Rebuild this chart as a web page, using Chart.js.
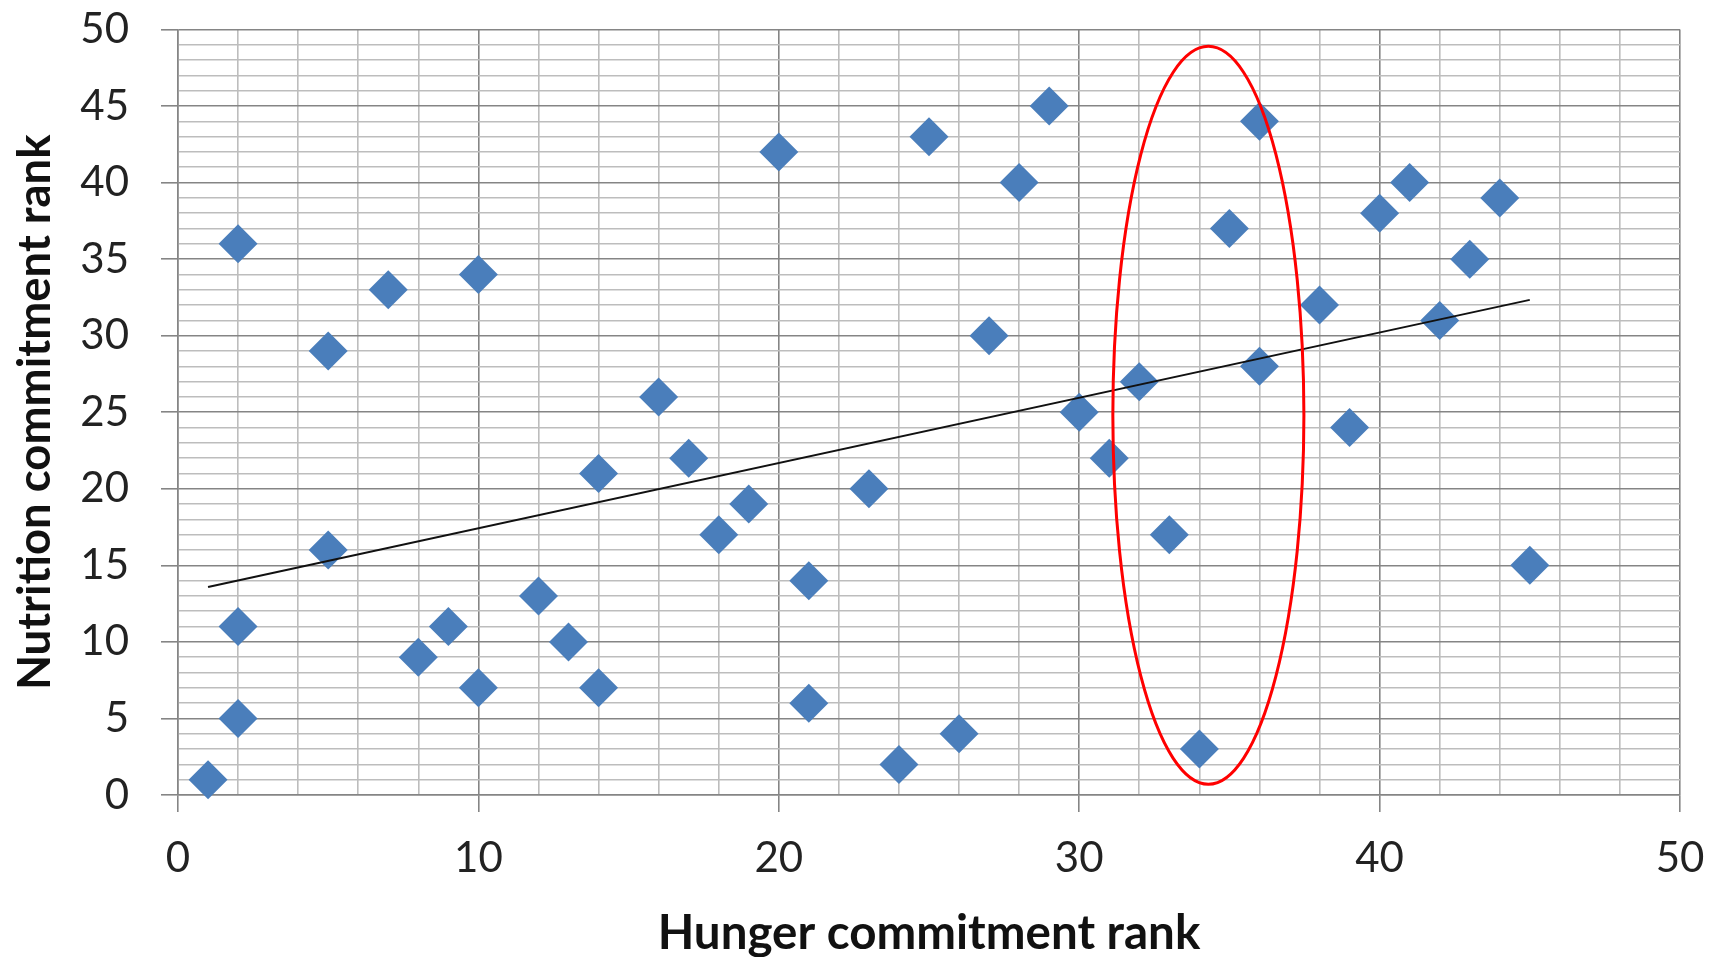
<!DOCTYPE html>
<html>
<head>
<meta charset="utf-8">
<script src="https://cdn.jsdelivr.net/npm/chart.js@4.4.1/dist/chart.umd.min.js"></script>
<style>
  html, body { margin: 0; padding: 0; background: #fff; }
  #wrap { width: 1719px; height: 957px; position: relative; }
</style>
</head>
<body>
<div id="wrap"><canvas id="rankChart"></canvas></div>
<script>
// Hunger vs nutrition commitment rank (one point per country)
const hungerRank = [1, 2, 2, 2, 5, 5, 7, 8, 9, 10, 10, 12, 13, 14, 14, 16, 17, 18, 19, 20, 21, 21, 23,
  24, 25, 26, 27, 28, 29, 30, 31, 32, 33, 34, 35, 36, 36, 38, 39, 40, 41, 42, 43, 44, 45];
const nutritionRank = [1, 5, 11, 36, 16, 29, 33, 9, 11, 7, 34, 13, 10, 7, 21, 26, 22, 17, 19, 42, 14, 6, 20,
  2, 43, 4, 30, 40, 45, 25, 22, 27, 17, 3, 37, 28, 44, 32, 24, 38, 40, 31, 35, 39, 15];

const xTickLabels = [0, 10, 20, 30, 40, 50];
const yTickLabels = [0, 5, 10, 15, 20, 25, 30, 35, 40, 45, 50];

// red ring drawn round the 31-37 group (data units)
const ringCenter = [34.3, 24.8];
const ringRadii = [3.18, 24.1];

(function () {
  function $(id) { return document.getElementById(id); }

  function linearFit(xs, ys) {
    const n = xs.length;
    let sx = 0, sy = 0, sxx = 0, sxy = 0;
    for (let i = 0; i < n; i++) {
      sx += xs[i]; sy += ys[i];
      sxx += xs[i] * xs[i]; sxy += xs[i] * ys[i];
    }
    const slope = (n * sxy - sx * sy) / (n * sxx - sx * sx);
    const icpt = (sy - slope * sx) / n;
    return x => icpt + slope * x;
  }

  const ringPlugin = {
    id: 'ring',
    afterDatasetsDraw(chart) {
      const { ctx, scales: { x, y } } = chart;
      const cx = x.getPixelForValue(ringCenter[0]);
      const cy = y.getPixelForValue(ringCenter[1]);
      const rx = Math.abs(x.getPixelForValue(ringCenter[0] + ringRadii[0]) - cx);
      const ry = Math.abs(y.getPixelForValue(ringCenter[1] + ringRadii[1]) - cy);
      ctx.save();
      ctx.beginPath();
      ctx.ellipse(cx, cy, rx, ry, 0, 0, Math.PI * 2);
      ctx.strokeStyle = '#ff0000';
      ctx.lineWidth = 3;
      ctx.stroke();
      ctx.restore();
    }
  };

  function draw() {
    const fit = linearFit(hungerRank, nutritionRank);
    const xMin = Math.min(...hungerRank), xMax = Math.max(...hungerRank);
    const points = hungerRank.map((h, i) => ({ x: h, y: nutritionRank[i] }));

    const tickFont = { family: 'Lato', size: 42 };
    const MAJOR = '#858585', MINOR = '#bdbdbd';

    new Chart($('rankChart'), {
      type: 'scatter',
      data: {
        datasets: [{
          data: points,
          pointStyle: 'rectRot',
          pointRadius: 19.5,
          backgroundColor: '#4a7ebb',
          borderWidth: 0,
          clip: false,
          order: 2
        }, {
          type: 'line',
          data: [{ x: xMin, y: fit(xMin) }, { x: xMax, y: fit(xMax) }],
          borderColor: '#111',
          borderWidth: 2,
          pointRadius: 0,
          order: 1
        }]
      },
      options: {
        responsive: true,
        maintainAspectRatio: false,
        animation: false,
        events: [],
        layout: { autoPadding: false, padding: 0 },
        plugins: { legend: { display: false }, tooltip: { enabled: false } },
        scales: {
          x: {
            type: 'linear', min: 0, max: 50,
            // keep plot box where the original sits
            afterFit: s => { s.height = 162; s.paddingRight = 39; s.paddingLeft = 0; },
            border: { color: MAJOR, width: 1.5 },
            grid: {
              color: c => (c.tick.value % 10 === 0 ? MAJOR : MINOR),
              tickColor: c => (c.tick.value % 10 === 0 ? MAJOR : 'rgba(0,0,0,0)'),
              lineWidth: 1.6,
              tickLength: 17
            },
            ticks: {
              stepSize: 2, autoSkip: false, maxRotation: 0,
              padding: 21, color: '#222', font: tickFont,
              callback: v => (xTickLabels.includes(v) ? String(v) : '')
            },
            title: {
              display: true, text: 'Hunger commitment rank', color: '#111',
              font: { family: 'Lato', size: 47.5, weight: 'bold', lineHeight: 1 },
              padding: { top: 0, bottom: 0 }
            }
          },
          y: {
            type: 'linear', min: 0, max: 50,
            afterFit: s => { s.width = 178; s.paddingTop = 29.5; s.paddingBottom = 0; },
            border: { color: MAJOR, width: 1.5 },
            grid: {
              color: c => (c.tick.value % 5 === 0 ? MAJOR : MINOR),
              tickColor: c => (c.tick.value % 5 === 0 ? MAJOR : 'rgba(0,0,0,0)'),
              lineWidth: 1.6,
              tickLength: 17
            },
            ticks: {
              stepSize: 1, autoSkip: false,
              padding: 32, color: '#222', font: tickFont,
              callback: v => (yTickLabels.includes(v) ? String(v) : '')
            },
            title: {
              display: true, text: 'Nutrition commitment rank', color: '#111',
              font: { family: 'Lato', size: 45.5, weight: 'bold', lineHeight: 1 },
              padding: { top: 13, bottom: 0 }
            }
          }
        }
      },
      plugins: [ringPlugin]
    });
  }

  if (document.fonts && document.fonts.load) {
    Promise.all([document.fonts.load('42px Lato'), document.fonts.load('bold 47.5px Lato')])
      .then(draw, draw);
  } else {
    draw();
  }
})();
</script>
</body>
</html>
